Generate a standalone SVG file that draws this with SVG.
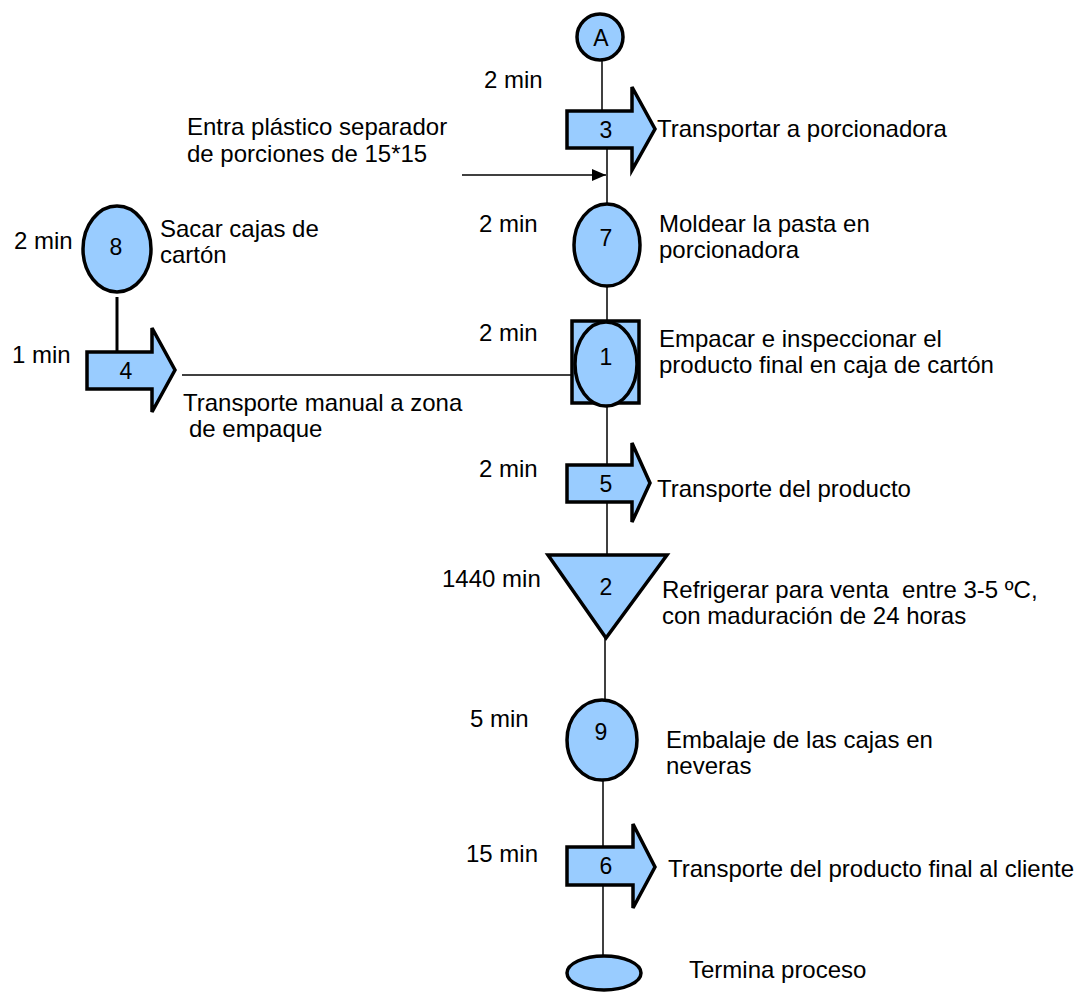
<svg xmlns="http://www.w3.org/2000/svg" width="1083" height="995" viewBox="0 0 1083 995">
<style>
.s{fill:#99ccff;stroke:#000;stroke-width:3.5}
.c{stroke:#000;stroke-width:1.5;fill:none}
.t{font-family:"Liberation Sans",Arial,sans-serif;font-size:24px;fill:#000}
.n{font-family:"Liberation Sans",Arial,sans-serif;font-size:23px;fill:#000;text-anchor:middle}
</style>
<defs>
<marker id="ah" markerWidth="14" markerHeight="12" refX="14" refY="6" orient="auto" markerUnits="userSpaceOnUse">
<path d="M0,0 L14,6 L0,12 Z" fill="#000"/>
</marker>
</defs>
<rect width="1083" height="995" fill="#fff"/>
<g id="connectors">
<line class="c" x1="602" y1="60" x2="602" y2="111"/>
<line class="c" x1="607" y1="148" x2="607" y2="204"/>
<line class="c" x1="462" y1="175" x2="606" y2="175" marker-end="url(#ah)"/>
<line class="c" x1="607" y1="286" x2="607" y2="321"/>
<line x1="117" y1="297" x2="117" y2="352" stroke="#000" stroke-width="3"/>
<line class="c" x1="182" y1="375" x2="572" y2="375"/>
<line class="c" x1="607" y1="406" x2="607" y2="465"/>
<line class="c" x1="607" y1="502" x2="607" y2="555"/>
<line class="c" x1="605" y1="638" x2="605" y2="700"/>
<line class="c" x1="603" y1="780" x2="603" y2="847"/>
<line class="c" x1="603" y1="885" x2="603" y2="957"/>
</g>
<g id="nodeA">
<circle class="s" cx="600" cy="37" r="23" stroke-width="1.5"/>
<text class="n" x="601" y="46">A</text>
</g>
<g id="node3">
<polygon class="s" points="567,111 632,111 632,87 655,129 632,170 632,148 567,148"/>
<text class="n" x="606" y="138">3</text>
</g>
<g id="node7">
<ellipse class="s" cx="607" cy="245" rx="33" ry="41"/>
<text class="n" x="606" y="246">7</text>
</g>
<g id="node8">
<ellipse class="s" cx="117" cy="249" rx="34" ry="43"/>
<text class="n" x="116" y="255">8</text>
</g>
<g id="node1">
<rect class="s" x="572" y="321" width="67" height="82"/>
<ellipse class="s" cx="606" cy="364" rx="31" ry="42"/>
<text class="n" x="606" y="365">1</text>
</g>
<g id="node4">
<polygon class="s" points="87,352 152,352 152,328 175,370 152,412 152,389 87,389"/>
<text class="n" x="126" y="379">4</text>
</g>
<g id="node5">
<polygon class="s" points="567,465 632,465 632,443 650,483 632,522 632,502 567,502"/>
<text class="n" x="606" y="492">5</text>
</g>
<g id="node2">
<polygon class="s" points="548,555 667,555 606,638"/>
<text class="n" x="606" y="595">2</text>
</g>
<g id="node9">
<ellipse class="s" cx="602" cy="740" rx="35" ry="40"/>
<text class="n" x="601" y="740">9</text>
</g>
<g id="node6">
<polygon class="s" points="567,847 633,847 633,824 655,867 633,908 633,885 567,885"/>
<text class="n" x="606" y="874">6</text>
</g>
<g id="nodeEnd">
<ellipse class="s" cx="604" cy="973" rx="37" ry="17"/>
</g>
<g id="labels">
<text class="t" x="484" y="88">2 min</text>
<text class="t" x="657" y="137">Transportar a porcionadora</text>
<text class="t" x="187" y="135">Entra plástico separador</text>
<text class="t" x="187" y="162">de porciones de 15*15</text>
<text class="t" x="14" y="249">2 min</text>
<text class="t" x="160" y="237">Sacar cajas de</text>
<text class="t" x="160" y="263">cartón</text>
<text class="t" x="479" y="232">2 min</text>
<text class="t" x="659" y="232">Moldear la pasta en</text>
<text class="t" x="659" y="258">porcionadora</text>
<text class="t" x="479" y="341">2 min</text>
<text class="t" x="659" y="347">Empacar e inspeccionar el</text>
<text class="t" x="659" y="373">producto final en caja de cartón</text>
<text class="t" x="12" y="363">1 min</text>
<text class="t" x="183" y="411">Transporte manual a zona</text>
<text class="t" x="189" y="437">de empaque</text>
<text class="t" x="479" y="477">2 min</text>
<text class="t" x="657" y="497">Transporte del producto</text>
<text class="t" x="442" y="587">1440 min</text>
<text class="t" x="662" y="598" xml:space="preserve">Refrigerar para venta  entre 3-5 ºC,</text>
<text class="t" x="662" y="624">con maduración de 24 horas</text>
<text class="t" x="470" y="727">5 min</text>
<text class="t" x="666" y="748">Embalaje de las cajas en</text>
<text class="t" x="666" y="774">neveras</text>
<text class="t" x="466" y="862">15 min</text>
<text class="t" x="668" y="877">Transporte del producto final al cliente</text>
<text class="t" x="689" y="978">Termina proceso</text>
</g>
</svg>
